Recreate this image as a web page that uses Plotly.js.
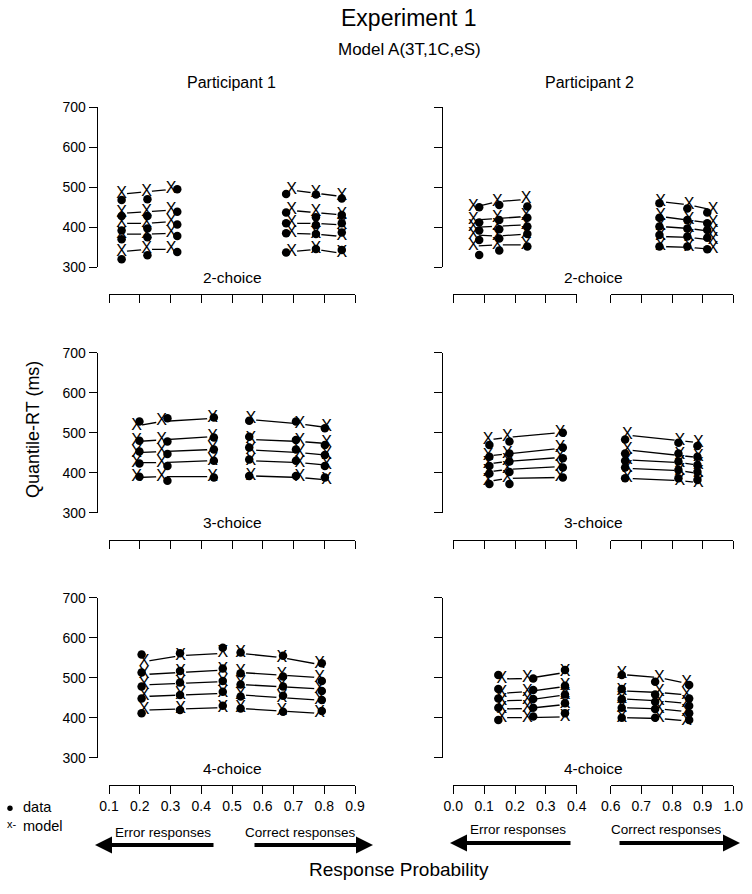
<!DOCTYPE html>
<html>
<head>
<meta charset="utf-8">
<script src="https://cdn.plot.ly/plotly-3.0.1.min.js"></script>
<style>html,body{margin:0;padding:0;background:#fff;}#chart{width:752px;height:894px;}</style>
</head>
<body>
<div id="chart"></div>
<script>
// ---------------- DATA ----------------
// Tick labels
const yTicks = [300, 400, 500, 600, 700];
const xTicksP1 = [0.1, 0.2, 0.3, 0.4, 0.5, 0.6, 0.7, 0.8, 0.9];
const xTicksP2err = [0.0, 0.1, 0.2, 0.3, 0.4];
const xTicksP2cor = [0.6, 0.7, 0.8, 0.9, 1.0];
const quantiles = [0.1, 0.3, 0.5, 0.7, 0.9];
const choiceLabels = ['2-choice', '3-choice', '4-choice'];
const participantLabels = ['Participant 1', 'Participant 2'];

// Participant 1, 2-choice
const P1_C2_errModelX = [0.141, 0.222, 0.302];
const P1_C2_errModelRT = [[339, 383, 410, 435, 483], [345, 383, 410, 439, 489], [345, 385, 414, 443, 495]];
const P1_C2_errDataX = [0.141, 0.225, 0.322];
const P1_C2_errDataRT = [[320, 370, 392, 428, 468], [330, 375, 397, 428, 470], [338, 378, 407, 439, 495]];
const P1_C2_corModelX = [0.694, 0.773, 0.857];
const P1_C2_corModelRT = [[339, 385, 410, 442, 493], [345, 383, 410, 437, 485], [335, 377, 406, 431, 477]];
const P1_C2_corDataX = [0.676, 0.773, 0.857];
const P1_C2_corDataRT = [[337, 385, 410, 437, 483], [346, 383, 406, 425, 482], [343, 387, 410, 431, 472]];

// Participant 2, 2-choice
const P2_C2_errModelX = [0.065, 0.143, 0.236];
const P2_C2_errModelRT = [[353, 381, 400, 418, 450], [356, 378, 402, 422, 464], [356, 383, 406, 427, 470]];
const P2_C2_errDataX = [0.084, 0.149, 0.240];
const P2_C2_errDataRT = [[331, 368, 392, 412, 450], [342, 372, 395, 418, 456], [352, 383, 402, 424, 452]];
const P2_C2_corModelX = [0.763, 0.856, 0.934];
const P2_C2_corModelRT = [[352, 377, 402, 427, 464], [350, 375, 397, 418, 456], [345, 368, 389, 410, 443]];
const P2_C2_corDataX = [0.759, 0.850, 0.915];
const P2_C2_corDataRT = [[352, 381, 402, 424, 460], [352, 377, 397, 418, 447], [345, 374, 393, 410, 437]];

// Participant 1, 3-choice
const P1_C3_errModelX = [0.190, 0.271, 0.437];
const P1_C3_errModelRT = [[388, 425, 450, 478, 517], [390, 425, 453, 482, 528], [390, 430, 458, 490, 536]];
const P1_C3_errDataX = [0.199, 0.290, 0.441];
const P1_C3_errDataRT = [[390, 423, 453, 480, 528], [380, 417, 447, 478, 536], [388, 430, 458, 488, 538]];
const P1_C3_corModelX = [0.561, 0.721, 0.808];
const P1_C3_corModelRT = [[392, 430, 457, 483, 533], [388, 425, 450, 478, 522], [382, 419, 444, 473, 513]];
const P1_C3_corDataX = [0.556, 0.708, 0.802];
const P1_C3_corDataRT = [[392, 433, 463, 490, 530], [392, 430, 458, 482, 528], [388, 417, 444, 469, 511]];

// Participant 2, 3-choice
const P2_C3_errModelX = [0.113, 0.175, 0.346];
const P2_C3_errModelRT = [[378, 402, 422, 442, 482], [386, 408, 428, 447, 488], [388, 415, 438, 461, 500]];
const P2_C3_errDataX = [0.117, 0.182, 0.355];
const P2_C3_errDataRT = [[372, 398, 417, 440, 469], [372, 402, 428, 448, 478], [388, 413, 436, 463, 500]];
const P2_C3_corModelX = [0.654, 0.826, 0.886];
const P2_C3_corModelRT = [[386, 411, 432, 457, 494], [380, 405, 425, 444, 480], [375, 398, 419, 438, 475]];
const P2_C3_corDataX = [0.647, 0.821, 0.883];
const P2_C3_corDataRT = [[386, 413, 430, 448, 483], [386, 407, 428, 448, 475], [382, 402, 419, 440, 467]];

// Participant 1, 4-choice
const P1_C4_errModelX = [0.214, 0.333, 0.470];
const P1_C4_errModelRT = [[419, 453, 482, 508, 540], [422, 457, 486, 513, 555], [425, 461, 490, 519, 561]];
const P1_C4_errDataX = [0.206, 0.331, 0.470];
const P1_C4_errDataRT = [[411, 448, 478, 513, 558], [419, 457, 488, 517, 561], [430, 465, 492, 523, 575]];
const P1_C4_corModelX = [0.528, 0.662, 0.785];
const P1_C4_corModelRT = [[423, 457, 483, 513, 561], [417, 450, 478, 507, 550], [411, 444, 472, 500, 533]];
const P1_C4_corDataX = [0.528, 0.666, 0.792];
const P1_C4_corDataRT = [[423, 453, 483, 511, 563], [415, 455, 478, 503, 555], [417, 444, 467, 492, 536]];

// Participant 2, 4-choice
const P2_C4_errModelX = [0.157, 0.240, 0.362];
const P2_C4_errModelRT = [[400, 422, 442, 461, 497], [400, 423, 444, 465, 498], [402, 433, 457, 478, 513]];
const P2_C4_errDataX = [0.146, 0.259, 0.362];
const P2_C4_errDataRT = [[394, 425, 448, 472, 507], [403, 425, 447, 469, 498], [411, 436, 458, 480, 519]];
const P2_C4_corModelX = [0.636, 0.759, 0.848];
const P2_C4_corModelRT = [[400, 425, 447, 467, 508], [398, 422, 442, 463, 500], [392, 415, 436, 457, 486]];
const P2_C4_corDataX = [0.636, 0.745, 0.856];
const P2_C4_corDataRT = [[400, 425, 447, 472, 507], [400, 422, 440, 458, 490], [394, 411, 430, 448, 482]];

// ---------------- LAYOUT HELPERS ----------------
const W = 752, H = 894;
const fx = px => px / W;
const fy = py => 1 - py / H;
const FONT = 'Liberation Sans, Arial, Helvetica, sans-serif';

const rowTop = [107.3, 352.7, 597.7];   // pixel y of 700 ms
const rowPlotH = 160;                   // 300..700 ms
const rowXAxisY = [294, 540, 785];
const colYAxisX = [96.7, 441.7];
const dom = {
  p1: [109, 355],
  p2err: [453.3, 576.7],
  p2cor: [610.7, 733.3]
};

const panels = [
  {row: 0, col: 0, groups: [
    ['p1', P1_C2_errModelX, P1_C2_errModelRT, P1_C2_errDataX, P1_C2_errDataRT],
    ['p1', P1_C2_corModelX, P1_C2_corModelRT, P1_C2_corDataX, P1_C2_corDataRT]]},
  {row: 1, col: 0, groups: [
    ['p1', P1_C3_errModelX, P1_C3_errModelRT, P1_C3_errDataX, P1_C3_errDataRT],
    ['p1', P1_C3_corModelX, P1_C3_corModelRT, P1_C3_corDataX, P1_C3_corDataRT]]},
  {row: 2, col: 0, groups: [
    ['p1', P1_C4_errModelX, P1_C4_errModelRT, P1_C4_errDataX, P1_C4_errDataRT],
    ['p1', P1_C4_corModelX, P1_C4_corModelRT, P1_C4_corDataX, P1_C4_corDataRT]]},
  {row: 0, col: 1, groups: [
    ['p2err', P2_C2_errModelX, P2_C2_errModelRT, P2_C2_errDataX, P2_C2_errDataRT],
    ['p2cor', P2_C2_corModelX, P2_C2_corModelRT, P2_C2_corDataX, P2_C2_corDataRT]]},
  {row: 1, col: 1, groups: [
    ['p2err', P2_C3_errModelX, P2_C3_errModelRT, P2_C3_errDataX, P2_C3_errDataRT],
    ['p2cor', P2_C3_corModelX, P2_C3_corModelRT, P2_C3_corDataX, P2_C3_corDataRT]]},
  {row: 2, col: 1, groups: [
    ['p2err', P2_C4_errModelX, P2_C4_errModelRT, P2_C4_errDataX, P2_C4_errDataRT],
    ['p2cor', P2_C4_corModelX, P2_C4_corModelRT, P2_C4_corDataX, P2_C4_corDataRT]]}
];

const layout = {
  width: W, height: H, autosize: false,
  margin: {l: 0, r: 0, t: 0, b: 0},
  paper_bgcolor: '#fff', plot_bgcolor: 'rgba(0,0,0,0)',
  showlegend: false,
  font: {family: FONT, color: '#000', size: 14},
  annotations: [], shapes: []
};

const traces = [];
let xCount = 0, yCount = 0;

function axisBase() {
  return {
    showgrid: false, zeroline: false, showline: true,
    linecolor: '#000', linewidth: 1,
    ticks: 'outside', ticklen: 8, tickwidth: 1, tickcolor: '#000',
    tickfont: {family: FONT, size: 14, color: '#000'},
    fixedrange: true
  };
}

panels.forEach(p => {
  yCount++;
  const yName = yCount === 1 ? 'yaxis' : 'yaxis' + yCount;
  const yRef = yCount === 1 ? 'y' : 'y' + yCount;
  const top = rowTop[p.row];
  layout[yName] = Object.assign(axisBase(), {
    range: [300, 700],
    domain: [fy(top + rowPlotH), fy(top)],
    anchor: 'free', position: fx(colYAxisX[p.col]),
    tickmode: 'array', tickvals: yTicks, ticktext: yTicks.map(String),
    showticklabels: p.col === 0
  });

  const groupAxes = {};
  p.groups.forEach(g => {
    const key = g[0];
    if (groupAxes[key]) return;
    xCount++;
    const xName = xCount === 1 ? 'xaxis' : 'xaxis' + xCount;
    const xRef = xCount === 1 ? 'x' : 'x' + xCount;
    groupAxes[key] = xRef;
    const tv = key === 'p1' ? xTicksP1 : (key === 'p2err' ? xTicksP2err : xTicksP2cor);
    layout[xName] = Object.assign(axisBase(), {
      range: [tv[0], tv[tv.length - 1]],
      domain: [fx(dom[key][0]), fx(dom[key][1])],
      anchor: 'free', position: fy(rowXAxisY[p.row]),
      tickmode: 'array', tickvals: tv, ticktext: tv.map(v => v.toFixed(1)),
      showticklabels: p.row === 2
    });
  });

  p.groups.forEach(g => {
    const [key, mX, mRT, dX, dRT] = g;
    const xa = groupAxes[key];
    quantiles.forEach((q, qi) => {
      traces.push({
        type: 'scatter', mode: 'lines', xaxis: xa, yaxis: yRef,
        x: mX, y: mRT.map(col => col[qi]),
        line: {color: '#000', width: 1.3}, hoverinfo: 'skip', cliponaxis: false
      });
    });
    const mx = [], my = [], dx = [], dy = [];
    mX.forEach((v, i) => mRT[i].forEach(rt => { mx.push(v); my.push(rt); }));
    dX.forEach((v, i) => dRT[i].forEach(rt => { dx.push(v); dy.push(rt); }));
    // white gaps around model points (R type="b" look)
    traces.push({
      type: 'scatter', mode: 'markers', xaxis: xa, yaxis: yRef,
      x: mx, y: my, marker: {color: '#fff', size: 11, line: {width: 0}},
      hoverinfo: 'skip', cliponaxis: false
    });
    // model points drawn as the letter "X"
    traces.push({
      type: 'scatter', mode: 'text', xaxis: xa, yaxis: yRef,
      x: mx, y: my, text: mx.map(() => 'X'), textposition: 'middle center',
      textfont: {family: FONT, size: 16, color: '#000'},
      hoverinfo: 'skip', cliponaxis: false
    });
    // data points
    traces.push({
      type: 'scatter', mode: 'markers', xaxis: xa, yaxis: yRef,
      x: dx, y: dy, marker: {color: '#000', size: 8.5, symbol: 'circle', line: {width: 0}},
      hoverinfo: 'skip', cliponaxis: false
    });
  });
});

function ann(text, px, py, size, extra) {
  layout.annotations.push(Object.assign({
    text: text, xref: 'paper', yref: 'paper', x: fx(px), y: fy(py),
    xanchor: 'center', yanchor: 'middle', showarrow: false,
    font: {family: FONT, size: size, color: '#000'}
  }, extra || {}));
}

ann('Experiment 1', 409, 18, 23);
ann('Model A(3T,1C,eS)', 409, 50, 17);
ann(participantLabels[0], 231, 82, 16);
ann(participantLabels[1], 589, 82, 16);
[277, 522, 768].forEach((py, i) => {
  ann(choiceLabels[i], 232, py, 15.5);
  ann(choiceLabels[i], 593, py, 15.5);
});
ann('Quantile-RT (ms)', 33, 430, 18, {textangle: -90});
ann('Response Probability', 399, 869, 19);

// legend
layout.shapes.push({type: 'circle', xref: 'paper', yref: 'paper',
  x0: fx(7.3), x1: fx(12.7), y0: fy(811), y1: fy(805.6),
  fillcolor: '#000', line: {width: 0}});
ann('data<br>model', 21, 816, 14.5, {xanchor: 'left', align: 'left'});
ann('x-', 12, 824, 11);

// arrows
function arrow(headPx, tailPx, py) {
  layout.annotations.push({
    text: '', xref: 'paper', yref: 'paper', x: fx(headPx), y: fy(py),
    showarrow: true, ax: tailPx - headPx, ay: 0,
    arrowhead: 2, arrowsize: 0.85, arrowwidth: 4, arrowcolor: '#000'
  });
}
arrow(95, 215, 845);
arrow(373, 253, 845);
arrow(450, 572, 843);
arrow(740, 618, 843);
ann('Error responses', 163, 832, 13.5);
ann('Correct responses', 300, 832, 13.5);
ann('Error responses', 518, 829, 13.5);
ann('Correct responses', 666, 829, 13.5);

Plotly.newPlot('chart', traces, layout, {staticPlot: true, displayModeBar: false});
</script>
</body>
</html>
